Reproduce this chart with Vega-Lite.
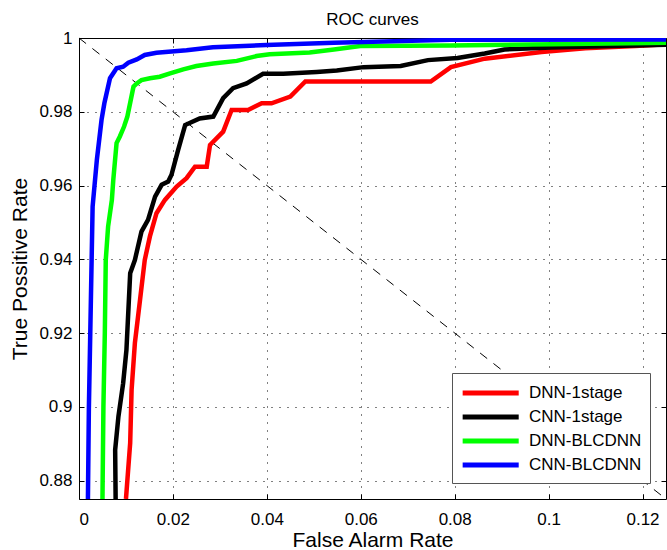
{
  "$schema": "https://vega.github.io/schema/vega-lite/v6.json",
  "width": 587,
  "height": 461,
  "autosize": "none",
  "padding": {"left": 79, "top": 38, "right": 1, "bottom": 51},
  "title": {"text": "ROC curves", "fontSize": 17, "fontWeight": "normal", "font": "Liberation Sans", "offset": 0, "color": "black"},
  "config": {
    "view": {"stroke": "black", "strokeWidth": 1},
    "axis": {
      "labelFont": "Liberation Sans", "labelFontSize": 17, "labelColor": "black",
      "titleFont": "Liberation Sans", "titleFontSize": 21, "titleFontWeight": "normal", "titleColor": "black",
      "domainColor": "black", "tickColor": "black",
      "gridColor": "#000000", "gridOpacity": 1, "gridDash": [1, 7], "gridWidth": 1
    },
    "legend": {
      "orient": "bottom-right", "offset": 16, "fillColor": "white", "strokeColor": "#555555",
      "padding": 8, "symbolType": "M-1,0H5", "symbolSize": 349, "symbolStrokeWidth": 5,
      "labelFont": "Liberation Sans", "labelFontSize": 17, "labelColor": "black", "labelOffset": 45, "rowPadding": 2
    }
  },
  "datasets": {
    "diag": [{"x": 0, "y": 1}, {"x": 0.125, "y": 0.875}],
    "roc": [
      {"s": "DNN-1stage", "i": 0, "x": 0.0100, "y": 0.875},
      {"s": "DNN-1stage", "i": 1, "x": 0.0109, "y": 0.8902},
      {"s": "DNN-1stage", "i": 2, "x": 0.0112, "y": 0.9046},
      {"s": "DNN-1stage", "i": 3, "x": 0.0119, "y": 0.9173},
      {"s": "DNN-1stage", "i": 4, "x": 0.0130, "y": 0.9290},
      {"s": "DNN-1stage", "i": 5, "x": 0.0140, "y": 0.9398},
      {"s": "DNN-1stage", "i": 6, "x": 0.0151, "y": 0.9462},
      {"s": "DNN-1stage", "i": 7, "x": 0.0165, "y": 0.9525},
      {"s": "DNN-1stage", "i": 8, "x": 0.0183, "y": 0.9561},
      {"s": "DNN-1stage", "i": 9, "x": 0.0208, "y": 0.9597},
      {"s": "DNN-1stage", "i": 10, "x": 0.0229, "y": 0.9620},
      {"s": "DNN-1stage", "i": 11, "x": 0.0247, "y": 0.9651},
      {"s": "DNN-1stage", "i": 12, "x": 0.0272, "y": 0.9651},
      {"s": "DNN-1stage", "i": 13, "x": 0.0279, "y": 0.9710},
      {"s": "DNN-1stage", "i": 14, "x": 0.0307, "y": 0.9746},
      {"s": "DNN-1stage", "i": 15, "x": 0.0325, "y": 0.9805},
      {"s": "DNN-1stage", "i": 16, "x": 0.0360, "y": 0.9805},
      {"s": "DNN-1stage", "i": 17, "x": 0.0389, "y": 0.9823},
      {"s": "DNN-1stage", "i": 18, "x": 0.0410, "y": 0.9823},
      {"s": "DNN-1stage", "i": 19, "x": 0.0450, "y": 0.9841},
      {"s": "DNN-1stage", "i": 20, "x": 0.0482, "y": 0.9882},
      {"s": "DNN-1stage", "i": 21, "x": 0.0749, "y": 0.9882},
      {"s": "DNN-1stage", "i": 22, "x": 0.0792, "y": 0.9921},
      {"s": "DNN-1stage", "i": 23, "x": 0.0864, "y": 0.9944},
      {"s": "DNN-1stage", "i": 24, "x": 0.0985, "y": 0.9962},
      {"s": "DNN-1stage", "i": 25, "x": 0.1078, "y": 0.9972},
      {"s": "DNN-1stage", "i": 26, "x": 0.1185, "y": 0.9978},
      {"s": "DNN-1stage", "i": 27, "x": 0.1250, "y": 0.9983},
      {"s": "CNN-1stage", "i": 0, "x": 0.0078, "y": 0.875},
      {"s": "CNN-1stage", "i": 1, "x": 0.0077, "y": 0.8883},
      {"s": "CNN-1stage", "i": 2, "x": 0.0084, "y": 0.8974},
      {"s": "CNN-1stage", "i": 3, "x": 0.0094, "y": 0.9064},
      {"s": "CNN-1stage", "i": 4, "x": 0.0101, "y": 0.9154},
      {"s": "CNN-1stage", "i": 5, "x": 0.0109, "y": 0.9362},
      {"s": "CNN-1stage", "i": 6, "x": 0.0119, "y": 0.9398},
      {"s": "CNN-1stage", "i": 7, "x": 0.0133, "y": 0.9475},
      {"s": "CNN-1stage", "i": 8, "x": 0.0147, "y": 0.9507},
      {"s": "CNN-1stage", "i": 9, "x": 0.0162, "y": 0.9570},
      {"s": "CNN-1stage", "i": 10, "x": 0.0176, "y": 0.9602},
      {"s": "CNN-1stage", "i": 11, "x": 0.0190, "y": 0.9611},
      {"s": "CNN-1stage", "i": 12, "x": 0.0197, "y": 0.9629},
      {"s": "CNN-1stage", "i": 13, "x": 0.0211, "y": 0.9696},
      {"s": "CNN-1stage", "i": 14, "x": 0.0226, "y": 0.9764},
      {"s": "CNN-1stage", "i": 15, "x": 0.0257, "y": 0.9782},
      {"s": "CNN-1stage", "i": 16, "x": 0.0286, "y": 0.9787},
      {"s": "CNN-1stage", "i": 17, "x": 0.0307, "y": 0.9837},
      {"s": "CNN-1stage", "i": 18, "x": 0.0328, "y": 0.9864},
      {"s": "CNN-1stage", "i": 19, "x": 0.0357, "y": 0.9877},
      {"s": "CNN-1stage", "i": 20, "x": 0.0392, "y": 0.9903},
      {"s": "CNN-1stage", "i": 21, "x": 0.0435, "y": 0.9903},
      {"s": "CNN-1stage", "i": 22, "x": 0.0506, "y": 0.9908},
      {"s": "CNN-1stage", "i": 23, "x": 0.0549, "y": 0.9912},
      {"s": "CNN-1stage", "i": 24, "x": 0.0606, "y": 0.9921},
      {"s": "CNN-1stage", "i": 25, "x": 0.0685, "y": 0.9924},
      {"s": "CNN-1stage", "i": 26, "x": 0.0743, "y": 0.9940},
      {"s": "CNN-1stage", "i": 27, "x": 0.0806, "y": 0.9946},
      {"s": "CNN-1stage", "i": 28, "x": 0.0864, "y": 0.9958},
      {"s": "CNN-1stage", "i": 29, "x": 0.0906, "y": 0.9969},
      {"s": "CNN-1stage", "i": 30, "x": 0.1006, "y": 0.9974},
      {"s": "CNN-1stage", "i": 31, "x": 0.1250, "y": 0.9982},
      {"s": "DNN-BLCDNN", "i": 0, "x": 0.0050, "y": 0.875},
      {"s": "DNN-BLCDNN", "i": 1, "x": 0.0052, "y": 0.9001},
      {"s": "DNN-BLCDNN", "i": 2, "x": 0.0055, "y": 0.9201},
      {"s": "DNN-BLCDNN", "i": 3, "x": 0.0057, "y": 0.9398},
      {"s": "DNN-BLCDNN", "i": 4, "x": 0.0062, "y": 0.9489},
      {"s": "DNN-BLCDNN", "i": 5, "x": 0.0070, "y": 0.9561},
      {"s": "DNN-BLCDNN", "i": 6, "x": 0.0073, "y": 0.9615},
      {"s": "DNN-BLCDNN", "i": 7, "x": 0.0080, "y": 0.9715},
      {"s": "DNN-BLCDNN", "i": 8, "x": 0.0087, "y": 0.9733},
      {"s": "DNN-BLCDNN", "i": 9, "x": 0.0096, "y": 0.9760},
      {"s": "DNN-BLCDNN", "i": 10, "x": 0.0103, "y": 0.9787},
      {"s": "DNN-BLCDNN", "i": 11, "x": 0.0116, "y": 0.9868},
      {"s": "DNN-BLCDNN", "i": 12, "x": 0.0123, "y": 0.9877},
      {"s": "DNN-BLCDNN", "i": 13, "x": 0.0133, "y": 0.9886},
      {"s": "DNN-BLCDNN", "i": 14, "x": 0.0151, "y": 0.9891},
      {"s": "DNN-BLCDNN", "i": 15, "x": 0.0172, "y": 0.9895},
      {"s": "DNN-BLCDNN", "i": 16, "x": 0.0194, "y": 0.9904},
      {"s": "DNN-BLCDNN", "i": 17, "x": 0.0222, "y": 0.9915},
      {"s": "DNN-BLCDNN", "i": 18, "x": 0.0250, "y": 0.9924},
      {"s": "DNN-BLCDNN", "i": 19, "x": 0.0286, "y": 0.9931},
      {"s": "DNN-BLCDNN", "i": 20, "x": 0.0336, "y": 0.9938},
      {"s": "DNN-BLCDNN", "i": 21, "x": 0.0378, "y": 0.9951},
      {"s": "DNN-BLCDNN", "i": 22, "x": 0.0406, "y": 0.9956},
      {"s": "DNN-BLCDNN", "i": 23, "x": 0.0491, "y": 0.9961},
      {"s": "DNN-BLCDNN", "i": 24, "x": 0.0543, "y": 0.9969},
      {"s": "DNN-BLCDNN", "i": 25, "x": 0.0599, "y": 0.9978},
      {"s": "DNN-BLCDNN", "i": 26, "x": 0.0791, "y": 0.9980},
      {"s": "DNN-BLCDNN", "i": 27, "x": 0.1006, "y": 0.9983},
      {"s": "DNN-BLCDNN", "i": 28, "x": 0.1250, "y": 0.9987},
      {"s": "CNN-BLCDNN", "i": 0, "x": 0.0019, "y": 0.875},
      {"s": "CNN-BLCDNN", "i": 1, "x": 0.0021, "y": 0.8995},
      {"s": "CNN-BLCDNN", "i": 2, "x": 0.0029, "y": 0.9543},
      {"s": "CNN-BLCDNN", "i": 3, "x": 0.0038, "y": 0.9669},
      {"s": "CNN-BLCDNN", "i": 4, "x": 0.0048, "y": 0.9778},
      {"s": "CNN-BLCDNN", "i": 5, "x": 0.0054, "y": 0.9823},
      {"s": "CNN-BLCDNN", "i": 6, "x": 0.0066, "y": 0.9891},
      {"s": "CNN-BLCDNN", "i": 7, "x": 0.0080, "y": 0.9918},
      {"s": "CNN-BLCDNN", "i": 8, "x": 0.0094, "y": 0.9922},
      {"s": "CNN-BLCDNN", "i": 9, "x": 0.0105, "y": 0.9933},
      {"s": "CNN-BLCDNN", "i": 10, "x": 0.0123, "y": 0.9942},
      {"s": "CNN-BLCDNN", "i": 11, "x": 0.0140, "y": 0.9954},
      {"s": "CNN-BLCDNN", "i": 12, "x": 0.0165, "y": 0.9960},
      {"s": "CNN-BLCDNN", "i": 13, "x": 0.0229, "y": 0.9967},
      {"s": "CNN-BLCDNN", "i": 14, "x": 0.0285, "y": 0.9975},
      {"s": "CNN-BLCDNN", "i": 15, "x": 0.0399, "y": 0.9981},
      {"s": "CNN-BLCDNN", "i": 16, "x": 0.0543, "y": 0.9987},
      {"s": "CNN-BLCDNN", "i": 17, "x": 0.0791, "y": 0.9995},
      {"s": "CNN-BLCDNN", "i": 18, "x": 0.1250, "y": 0.9996}
    ]
  },
  "layer": [
    {
      "data": {"name": "diag"},
      "mark": {"type": "line", "color": "black", "strokeWidth": 1, "strokeDash": [9, 8]},
      "encoding": {
        "x": {"field": "x", "type": "quantitative", "scale": {"domain": [0, 0.125], "nice": false},
          "axis": {"orient": "top", "labels": false, "grid": false, "title": null, "values": [0, 0.02, 0.04, 0.06, 0.08, 0.1, 0.12], "tickSize": -5, "domain": false}},
        "y": {"field": "y", "type": "quantitative", "scale": {"domain": [0.875, 1], "nice": false, "zero": false},
          "axis": {"orient": "right", "labels": false, "grid": false, "title": null, "values": [0.88, 0.9, 0.92, 0.94, 0.96, 0.98, 1], "tickSize": -5, "domain": false}}
      }
    },
    {
      "data": {"name": "roc"},
      "mark": {"type": "line", "strokeWidth": 4.5, "clip": true},
      "encoding": {
        "x": {"field": "x", "type": "quantitative", "scale": {"domain": [0, 0.125], "nice": false},
          "axis": {"orient": "bottom", "title": "False Alarm Rate", "format": "~g", "grid": true, "values": [0, 0.02, 0.04, 0.06, 0.08, 0.1, 0.12], "tickSize": -5, "labelPadding": 17, "titlePadding": 2, "domain": false}},
        "y": {"field": "y", "type": "quantitative", "scale": {"domain": [0.875, 1], "nice": false, "zero": false},
          "axis": {"orient": "left", "title": "True Possitive Rate", "format": "~g", "grid": true, "values": [0.88, 0.9, 0.92, 0.94, 0.96, 0.98, 1], "tickSize": -5, "labelPadding": 12, "titlePadding": 8, "domain": false}},
        "color": {"field": "s", "type": "nominal", "title": null,
          "scale": {"domain": ["DNN-1stage", "CNN-1stage", "DNN-BLCDNN", "CNN-BLCDNN"], "range": ["#ff0000", "#000000", "#00ff00", "#0000ff"]}},
        "order": {"field": "i", "type": "quantitative"}
      }
    }
  ],
  "resolve": {"axis": {"x": "independent", "y": "independent"}}
}
